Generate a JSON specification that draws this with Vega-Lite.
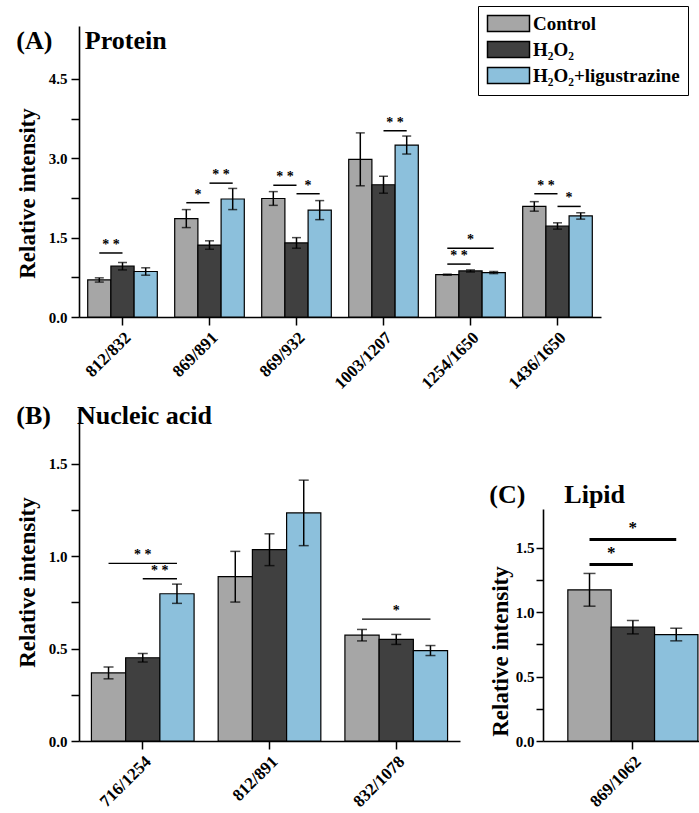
{
  "$schema": "https://vega.github.io/schema/vega-lite/v6.json",
  "padding": {"left": 16, "top": 5, "right": 0, "bottom": 0},
  "background": "white",
  "datasets": {
    "bars": [
      {"panel": "A", "cat": "812/832", "group": "Control", "mean": 0.70, "lo": 0.66, "hi": 0.74},
      {"panel": "A", "cat": "812/832", "group": "H₂O₂", "mean": 0.96, "lo": 0.89, "hi": 1.03},
      {"panel": "A", "cat": "812/832", "group": "H₂O₂+ligustrazine", "mean": 0.86, "lo": 0.79, "hi": 0.93},
      {"panel": "A", "cat": "869/891", "group": "Control", "mean": 1.86, "lo": 1.69, "hi": 2.03},
      {"panel": "A", "cat": "869/891", "group": "H₂O₂", "mean": 1.36, "lo": 1.28, "hi": 1.44},
      {"panel": "A", "cat": "869/891", "group": "H₂O₂+ligustrazine", "mean": 2.23, "lo": 2.03, "hi": 2.43},
      {"panel": "A", "cat": "869/932", "group": "Control", "mean": 2.24, "lo": 2.11, "hi": 2.37},
      {"panel": "A", "cat": "869/932", "group": "H₂O₂", "mean": 1.40, "lo": 1.30, "hi": 1.50},
      {"panel": "A", "cat": "869/932", "group": "H₂O₂+ligustrazine", "mean": 2.02, "lo": 1.84, "hi": 2.20},
      {"panel": "A", "cat": "1003/1207", "group": "Control", "mean": 2.98, "lo": 2.48, "hi": 3.48},
      {"panel": "A", "cat": "1003/1207", "group": "H₂O₂", "mean": 2.50, "lo": 2.34, "hi": 2.66},
      {"panel": "A", "cat": "1003/1207", "group": "H₂O₂+ligustrazine", "mean": 3.25, "lo": 3.08, "hi": 3.42},
      {"panel": "A", "cat": "1254/1650", "group": "Control", "mean": 0.80, "lo": 0.79, "hi": 0.81},
      {"panel": "A", "cat": "1254/1650", "group": "H₂O₂", "mean": 0.87, "lo": 0.85, "hi": 0.89},
      {"panel": "A", "cat": "1254/1650", "group": "H₂O₂+ligustrazine", "mean": 0.84, "lo": 0.82, "hi": 0.86},
      {"panel": "A", "cat": "1436/1650", "group": "Control", "mean": 2.09, "lo": 2.00, "hi": 2.18},
      {"panel": "A", "cat": "1436/1650", "group": "H₂O₂", "mean": 1.72, "lo": 1.66, "hi": 1.78},
      {"panel": "A", "cat": "1436/1650", "group": "H₂O₂+ligustrazine", "mean": 1.91, "lo": 1.85, "hi": 1.97},
      {"panel": "B", "cat": "716/1254", "group": "Control", "mean": 0.368, "lo": 0.336, "hi": 0.400},
      {"panel": "B", "cat": "716/1254", "group": "H₂O₂", "mean": 0.450, "lo": 0.427, "hi": 0.473},
      {"panel": "B", "cat": "716/1254", "group": "H₂O₂+ligustrazine", "mean": 0.796, "lo": 0.744, "hi": 0.848},
      {"panel": "B", "cat": "812/891", "group": "Control", "mean": 0.888, "lo": 0.751, "hi": 1.025},
      {"panel": "B", "cat": "812/891", "group": "H₂O₂", "mean": 1.034, "lo": 0.948, "hi": 1.120},
      {"panel": "B", "cat": "812/891", "group": "H₂O₂+ligustrazine", "mean": 1.233, "lo": 1.056, "hi": 1.410},
      {"panel": "B", "cat": "832/1078", "group": "Control", "mean": 0.572, "lo": 0.541, "hi": 0.603},
      {"panel": "B", "cat": "832/1078", "group": "H₂O₂", "mean": 0.549, "lo": 0.522, "hi": 0.576},
      {"panel": "B", "cat": "832/1078", "group": "H₂O₂+ligustrazine", "mean": 0.489, "lo": 0.462, "hi": 0.516},
      {"panel": "C", "cat": "869/1062", "group": "Control", "mean": 1.173, "lo": 1.046, "hi": 1.300},
      {"panel": "C", "cat": "869/1062", "group": "H₂O₂", "mean": 0.883, "lo": 0.831, "hi": 0.935},
      {"panel": "C", "cat": "869/1062", "group": "H₂O₂+ligustrazine", "mean": 0.826, "lo": 0.777, "hi": 0.875}
    ],
    "sig": [
      {"panel": "A", "id": "A1", "cat": "812/832", "from": "C", "to": "H", "mid": "CH", "level": 1.21, "stars": "* *"},
      {"panel": "A", "id": "A2", "cat": "869/891", "from": "C", "to": "H", "mid": "CH", "level": 2.16, "stars": "*"},
      {"panel": "A", "id": "A3", "cat": "869/891", "from": "H", "to": "L", "mid": "HL", "level": 2.53, "stars": "* *"},
      {"panel": "A", "id": "A4", "cat": "869/932", "from": "C", "to": "H", "mid": "CH", "level": 2.49, "stars": "* *"},
      {"panel": "A", "id": "A5", "cat": "869/932", "from": "H", "to": "L", "mid": "HL", "level": 2.33, "stars": "*"},
      {"panel": "A", "id": "A6", "cat": "1003/1207", "from": "H", "to": "L", "mid": "HL", "level": 3.52, "stars": "* *"},
      {"panel": "A", "id": "A7", "cat": "1254/1650", "from": "C", "to": "H", "mid": "CH", "level": 1.00, "stars": "* *"},
      {"panel": "A", "id": "A8", "cat": "1254/1650", "from": "C", "to": "L", "mid": "H", "level": 1.30, "stars": "*"},
      {"panel": "A", "id": "A9", "cat": "1436/1650", "from": "C", "to": "H", "mid": "CH", "level": 2.33, "stars": "* *"},
      {"panel": "A", "id": "A10", "cat": "1436/1650", "from": "H", "to": "L", "mid": "HL", "level": 2.09, "stars": "*"},
      {"panel": "B", "id": "B1", "cat": "716/1254", "from": "C", "to": "L", "mid": "H", "level": 0.96, "stars": "* *"},
      {"panel": "B", "id": "B2", "cat": "716/1254", "from": "H", "to": "L", "mid": "HL", "level": 0.877, "stars": "* *"},
      {"panel": "B", "id": "B3", "cat": "832/1078", "from": "C", "to": "L", "mid": "H", "level": 0.659, "stars": "*"},
      {"panel": "C", "id": "C1", "cat": "869/1062", "from": "C", "to": "H", "mid": "CH", "level": 1.37, "stars": "*"},
      {"panel": "C", "id": "C2", "cat": "869/1062", "from": "C", "to": "L", "mid": "H", "level": 1.564, "stars": "*"}
    ]
  },
  "config": {
    "font": "Liberation Serif",
    "view": {"stroke": null},
    "axis": {
      "labelFont": "Liberation Serif", "labelFontWeight": "bold", "labelFontSize": 15, "labelColor": "black",
      "titleFont": "Liberation Serif", "titleFontWeight": "bold", "titleFontSize": 23, "titleColor": "black",
      "domainColor": "black", "domainWidth": 1.6, "tickColor": "black", "tickWidth": 1.5, "tickSize": 8,
      "grid": false, "labelPadding": 4
    },
    "axisY": {"titlePadding": 9},
    "axisX": {"labelAngle": -45, "title": null, "labelPadding": 4, "labelFontSize": 17},
    "title": {"font": "Liberation Serif", "fontWeight": "bold", "fontSize": 26, "color": "black", "anchor": "start", "frame": "bounds"},
    "legend": {
      "labelFont": "Liberation Serif", "labelFontWeight": "bold", "labelFontSize": 19, "labelColor": "black",
      "strokeColor": "black", "padding": 8, "fillColor": "white",
      "symbolType": "M-1,-1H4.25V1H-1Z", "symbolSize": 256, "symbolStrokeColor": "black", "symbolStrokeWidth": 1.5, "symbolOpacity": 1,
      "labelOffset": 28, "rowPadding": 3
    }
  },
  "resolve": {"scale": {"color": "independent", "xOffset": "independent"}, "legend": {"color": "independent"}},
  "spacing": 11,
  "vconcat": [
    {
      "width": 522, "height": 291,
      "title": {"text": "(A)\u00a0\u00a0\u00a0\u00a0\u00a0Protein", "offset": -48},
      "encoding": {
        "x": {"field": "cat", "type": "nominal", "scale": {"domain": ["812/832", "869/891", "869/932", "1003/1207", "1254/1650", "1436/1650"], "paddingInner": 0.2, "paddingOuter": 0.1}}
      },
      "layer": [
        {
          "data": {"name": "bars"}, "transform": [{"filter": "datum.panel == 'A'"}],
          "mark": {"type": "bar", "stroke": "black", "strokeWidth": 1.2},
          "encoding": {
            "xOffset": {"field": "group", "type": "nominal", "scale": {"domain": ["Control", "H₂O₂", "H₂O₂+ligustrazine"]}},
            "y": {"field": "mean", "type": "quantitative", "scale": {"domain": [0, 5.5], "nice": false}, "title": "Relative intensity",
                  "axis": {"titleY": 167, "values": [0, 0.75, 1.5, 2.25, 3, 3.75, 4.5], "labelExpr": "datum.value % 1.5 == 0 ? format(datum.value, '.1f') : ''"}},
            "color": {"field": "group", "type": "nominal", "scale": {"domain": ["Control", "H₂O₂", "H₂O₂+ligustrazine"], "range": ["#a6a6a6", "#404040", "#8cc0dc"]},
                      "legend": {"title": null, "orient": "none", "legendX": 399, "legendY": -20}}
          }
        },
        {
          "data": {"name": "bars"}, "transform": [{"filter": "datum.panel == 'A'"}],
          "mark": {"type": "rule", "color": "black", "strokeWidth": 1.5},
          "encoding": {
            "xOffset": {"field": "group", "type": "nominal", "scale": {"domain": ["Control", "H₂O₂", "H₂O₂+ligustrazine"]}},
            "y": {"field": "lo", "type": "quantitative"}, "y2": {"field": "hi"}
          }
        },
        {
          "data": {"name": "bars"}, "transform": [{"filter": "datum.panel == 'A'"}],
          "mark": {"type": "tick", "color": "black", "thickness": 1.5, "size": 9},
          "encoding": {
            "xOffset": {"field": "group", "type": "nominal", "scale": {"domain": ["Control", "H₂O₂", "H₂O₂+ligustrazine"]}},
            "y": {"field": "hi", "type": "quantitative"}
          }
        },
        {
          "data": {"name": "bars"}, "transform": [{"filter": "datum.panel == 'A'"}],
          "mark": {"type": "tick", "color": "black", "thickness": 1.5, "size": 9},
          "encoding": {
            "xOffset": {"field": "group", "type": "nominal", "scale": {"domain": ["Control", "H₂O₂", "H₂O₂+ligustrazine"]}},
            "y": {"field": "lo", "type": "quantitative"}
          }
        },
        {
          "data": {"name": "sig"}, "transform": [{"filter": "datum.panel == 'A'"}, {"fold": ["from", "to"], "as": ["end", "slot"]}],
          "mark": {"type": "line", "color": "black", "strokeWidth": 1.5},
          "encoding": {
            "xOffset": {"field": "slot", "type": "nominal", "scale": {"type": "point", "padding": 1, "domain": ["C", "CH", "H", "HL", "L"]}},
            "y": {"field": "level", "type": "quantitative"},
            "detail": {"field": "id"}
          }
        },
        {
          "data": {"name": "sig"}, "transform": [{"filter": "datum.panel == 'A'"}],
          "mark": {"type": "text", "baseline": "bottom", "dy": -1, "font": "Liberation Serif", "fontWeight": "bold", "fontSize": 14, "fill": "black"},
          "encoding": {
            "xOffset": {"field": "mid", "type": "nominal", "scale": {"type": "point", "padding": 1, "domain": ["C", "CH", "H", "HL", "L"]}},
            "y": {"field": "level", "type": "quantitative"},
            "text": {"field": "stars"}
          }
        }
      ],
      "resolve": {"scale": {"xOffset": "independent"}}
    },
    {
      "spacing": 29,
      "resolve": {"scale": {"color": "independent", "xOffset": "independent"}, "legend": {"color": "independent"}},
      "hconcat": [
        {
          "width": 381, "height": 333,
          "title": {"text": "(B)\u00a0\u00a0\u00a0\u00a0Nucleic acid", "offset": -21},
          "encoding": {
            "x": {"field": "cat", "type": "nominal", "scale": {"domain": ["716/1254", "812/891", "832/1078"], "paddingInner": 0.19, "paddingOuter": 0.098}}
          },
          "layer": [
            {
              "data": {"name": "bars"}, "transform": [{"filter": "datum.panel == 'B'"}],
              "mark": {"type": "bar", "stroke": "black", "strokeWidth": 1.2},
              "encoding": {
                "xOffset": {"field": "group", "type": "nominal", "scale": {"domain": ["Control", "H₂O₂", "H₂O₂+ligustrazine"]}},
                "y": {"field": "mean", "type": "quantitative", "scale": {"domain": [0, 1.8], "nice": false}, "title": "Relative intensity",
                      "axis": {"titleY": 174, "values": [0, 0.25, 0.5, 0.75, 1, 1.25, 1.5], "labelExpr": "datum.value % 0.5 == 0 ? format(datum.value, '.1f') : ''"}},
                "color": {"field": "group", "type": "nominal", "scale": {"domain": ["Control", "H₂O₂", "H₂O₂+ligustrazine"], "range": ["#a6a6a6", "#404040", "#8cc0dc"]}, "legend": null}
              }
            },
            {
              "data": {"name": "bars"}, "transform": [{"filter": "datum.panel == 'B'"}],
              "mark": {"type": "rule", "color": "black", "strokeWidth": 1.5},
              "encoding": {
                "xOffset": {"field": "group", "type": "nominal", "scale": {"domain": ["Control", "H₂O₂", "H₂O₂+ligustrazine"]}},
                "y": {"field": "lo", "type": "quantitative"}, "y2": {"field": "hi"}
              }
            },
            {
              "data": {"name": "bars"}, "transform": [{"filter": "datum.panel == 'B'"}],
              "mark": {"type": "tick", "color": "black", "thickness": 1.5, "size": 10},
              "encoding": {
                "xOffset": {"field": "group", "type": "nominal", "scale": {"domain": ["Control", "H₂O₂", "H₂O₂+ligustrazine"]}},
                "y": {"field": "hi", "type": "quantitative"}
              }
            },
            {
              "data": {"name": "bars"}, "transform": [{"filter": "datum.panel == 'B'"}],
              "mark": {"type": "tick", "color": "black", "thickness": 1.5, "size": 10},
              "encoding": {
                "xOffset": {"field": "group", "type": "nominal", "scale": {"domain": ["Control", "H₂O₂", "H₂O₂+ligustrazine"]}},
                "y": {"field": "lo", "type": "quantitative"}
              }
            },
            {
              "data": {"name": "sig"}, "transform": [{"filter": "datum.panel == 'B'"}, {"fold": ["from", "to"], "as": ["end", "slot"]}],
              "mark": {"type": "line", "color": "black", "strokeWidth": 1.3},
              "encoding": {
                "xOffset": {"field": "slot", "type": "nominal", "scale": {"type": "point", "padding": 1, "domain": ["C", "CH", "H", "HL", "L"]}},
                "y": {"field": "level", "type": "quantitative"},
                "detail": {"field": "id"}
              }
            },
            {
              "data": {"name": "sig"}, "transform": [{"filter": "datum.panel == 'B'"}],
              "mark": {"type": "text", "baseline": "bottom", "dy": -1, "font": "Liberation Serif", "fontWeight": "bold", "fontSize": 14, "fill": "black"},
              "encoding": {
                "xOffset": {"field": "mid", "type": "nominal", "scale": {"type": "point", "padding": 1, "domain": ["C", "CH", "H", "HL", "L"]}},
                "y": {"field": "level", "type": "quantitative"},
                "text": {"field": "stars"}
              }
            }
          ],
          "resolve": {"scale": {"xOffset": "independent"}}
        },
        {
          "width": 160, "height": 333,
          "title": {"text": "(C)\u00a0\u00a0\u00a0\u00a0\u00a0\u00a0Lipid", "offset": -100},
          "encoding": {
            "x": {"field": "cat", "type": "nominal", "scale": {"domain": ["869/1062"], "paddingInner": 0, "paddingOuter": 0.115, "align": 0.83}}
          },
          "layer": [
            {
              "data": {"name": "bars"}, "transform": [{"filter": "datum.panel == 'C'"}],
              "mark": {"type": "bar", "stroke": "black", "strokeWidth": 1.2},
              "encoding": {
                "xOffset": {"field": "group", "type": "nominal", "scale": {"domain": ["Control", "H₂O₂", "H₂O₂+ligustrazine"]}},
                "y": {"field": "mean", "type": "quantitative", "scale": {"domain": [0, 1.8], "nice": false, "range": [333, 101]}, "title": "Relative intensity",
                      "axis": {"titleY": 243, "titlePadding": 3, "labelPadding": 2, "tickSize": 7, "values": [0, 0.25, 0.5, 0.75, 1, 1.25, 1.5], "labelExpr": "datum.value % 0.5 == 0 ? format(datum.value, '.1f') : ''"}},
                "color": {"field": "group", "type": "nominal", "scale": {"domain": ["Control", "H₂O₂", "H₂O₂+ligustrazine"], "range": ["#a6a6a6", "#404040", "#8cc0dc"]}, "legend": null}
              }
            },
            {
              "data": {"name": "bars"}, "transform": [{"filter": "datum.panel == 'C'"}],
              "mark": {"type": "rule", "color": "black", "strokeWidth": 1.5},
              "encoding": {
                "xOffset": {"field": "group", "type": "nominal", "scale": {"domain": ["Control", "H₂O₂", "H₂O₂+ligustrazine"]}},
                "y": {"field": "lo", "type": "quantitative"}, "y2": {"field": "hi"}
              }
            },
            {
              "data": {"name": "bars"}, "transform": [{"filter": "datum.panel == 'C'"}],
              "mark": {"type": "tick", "color": "black", "thickness": 1.5, "size": 12},
              "encoding": {
                "xOffset": {"field": "group", "type": "nominal", "scale": {"domain": ["Control", "H₂O₂", "H₂O₂+ligustrazine"]}},
                "y": {"field": "hi", "type": "quantitative"}
              }
            },
            {
              "data": {"name": "bars"}, "transform": [{"filter": "datum.panel == 'C'"}],
              "mark": {"type": "tick", "color": "black", "thickness": 1.5, "size": 12},
              "encoding": {
                "xOffset": {"field": "group", "type": "nominal", "scale": {"domain": ["Control", "H₂O₂", "H₂O₂+ligustrazine"]}},
                "y": {"field": "lo", "type": "quantitative"}
              }
            },
            {
              "data": {"name": "sig"}, "transform": [{"filter": "datum.panel == 'C'"}, {"fold": ["from", "to"], "as": ["end", "slot"]}],
              "mark": {"type": "line", "color": "black", "strokeWidth": 3},
              "encoding": {
                "xOffset": {"field": "slot", "type": "nominal", "scale": {"type": "point", "padding": 1, "domain": ["C", "CH", "H", "HL", "L"]}},
                "y": {"field": "level", "type": "quantitative"},
                "detail": {"field": "id"}
              }
            },
            {
              "data": {"name": "sig"}, "transform": [{"filter": "datum.panel == 'C'"}],
              "mark": {"type": "text", "baseline": "bottom", "dy": -2, "font": "Liberation Serif", "fontWeight": "bold", "fontSize": 17, "fill": "black"},
              "encoding": {
                "xOffset": {"field": "mid", "type": "nominal", "scale": {"type": "point", "padding": 1, "domain": ["C", "CH", "H", "HL", "L"]}},
                "y": {"field": "level", "type": "quantitative"},
                "text": {"field": "stars"}
              }
            }
          ],
          "resolve": {"scale": {"xOffset": "independent"}}
        }
      ]
    }
  ]
}
